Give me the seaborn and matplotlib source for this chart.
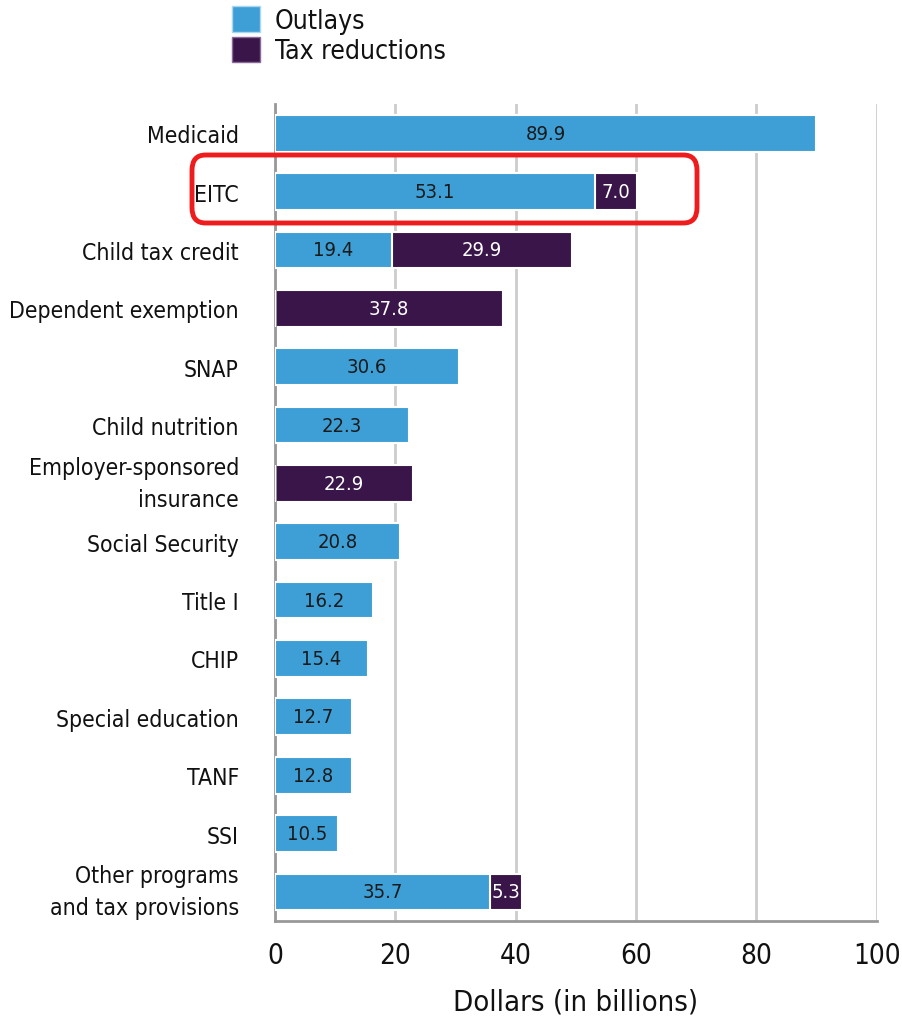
import matplotlib.pyplot as plt
import seaborn as sns
import pandas as pd
from matplotlib.patches import FancyBboxPatch, Patch

programs = ["Medicaid", "EITC", "Child tax credit", "Dependent exemption", "SNAP",
            "Child nutrition", "Employer-sponsored\ninsurance", "Social Security",
            "Title I", "CHIP", "Special education", "TANF", "SSI",
            "Other programs\nand tax provisions"]
outlays = [89.9, 53.1, 19.4, 0, 30.6, 22.3, 0, 20.8, 16.2, 15.4, 12.7, 12.8, 10.5, 35.7]
tax_reductions = [0, 7.0, 29.9, 37.8, 0, 0, 22.9, 0, 0, 0, 0, 0, 0, 5.3]

blue = "#3d9fd6"
purple = "#3a1549"

sns.set_style("white")
plt.rcParams['font.family'] = ['DejaVu Sans']
plt.rcParams['font.stretch'] = 'condensed'

df = pd.DataFrame({"program": programs, "outlays": outlays, "tax": tax_reductions})
df["total"] = df["outlays"] + df["tax"]

fig = plt.figure(figsize=(9.02, 10.2), dpi=100)
ax = fig.add_axes([0.305, 0.096, 0.667, 0.801])

# purple total bar first, then blue outlays drawn over it
sns.barplot(data=df, x="total", y="program", color=purple, width=0.63, saturation=1,
            edgecolor="white", linewidth=1.5, ax=ax, zorder=2)
sns.barplot(data=df, x="outlays", y="program", color=blue, width=0.63, saturation=1,
            edgecolor="white", linewidth=1.5, ax=ax, zorder=3)

for i, (o, t) in enumerate(zip(outlays, tax_reductions)):
    if o > 0:
        ax.text(o / 2, i, f"{o:.1f}", ha="center", va="center", fontsize=14.5,
                color="#1a1a1a", zorder=5)
    if t > 0:
        ax.text(o + t / 2, i, f"{t:.1f}", ha="center", va="center", fontsize=14.5,
                color="white", zorder=5)

ax.set_xlim(0, 100)
ax.set_ylim(13.5, -0.5)
ax.set_xticks([0, 20, 40, 60, 80, 100])
ax.xaxis.grid(True, color="#cccccc", linewidth=2, zorder=0)
ax.set_axisbelow(True)
for s in ["top", "right"]:
    ax.spines[s].set_visible(False)
for s in ["left", "bottom"]:
    ax.spines[s].set_color("#999999")
    ax.spines[s].set_linewidth(2)
ax.tick_params(axis="x", length=0, labelsize=20, pad=14, labelcolor="#111111")
ax.tick_params(axis="y", length=0, labelsize=16.5, pad=26, labelcolor="#111111")
for lbl in ax.get_yticklabels():
    if "\n" in lbl.get_text():
        lbl.set_linespacing(1.5)
        lbl.set_va("center")
ax.set_ylabel("")
ax.set_xlabel("Dollars (in billions)", fontsize=21, labelpad=14, color="#111111")

handles = [Patch(facecolor=blue, edgecolor="#a9d6f0", label="Outlays"),
           Patch(facecolor=purple, edgecolor="#8a6a99", label="Tax reductions")]
leg = fig.legend(handles=handles, loc="upper left", bbox_to_anchor=(0.246, 1.003),
                 frameon=False, fontsize=19, handlelength=1.05, handleheight=1.1,
                 handletextpad=0.55, labelspacing=0.1, borderaxespad=0)
for txt in leg.get_texts():
    txt.set_color("#111111")

# red highlight box around EITC
box = FancyBboxPatch((192 / 902, 1 - 224 / 1020), 505 / 902, 68 / 1020,
                     boxstyle="round,pad=0,rounding_size=0.015",
                     transform=fig.transFigure, fill=False, edgecolor="#ee1c1c",
                     linewidth=3.5, zorder=10)
fig.patches.append(box)

fig.savefig("out.png", dpi=100)
